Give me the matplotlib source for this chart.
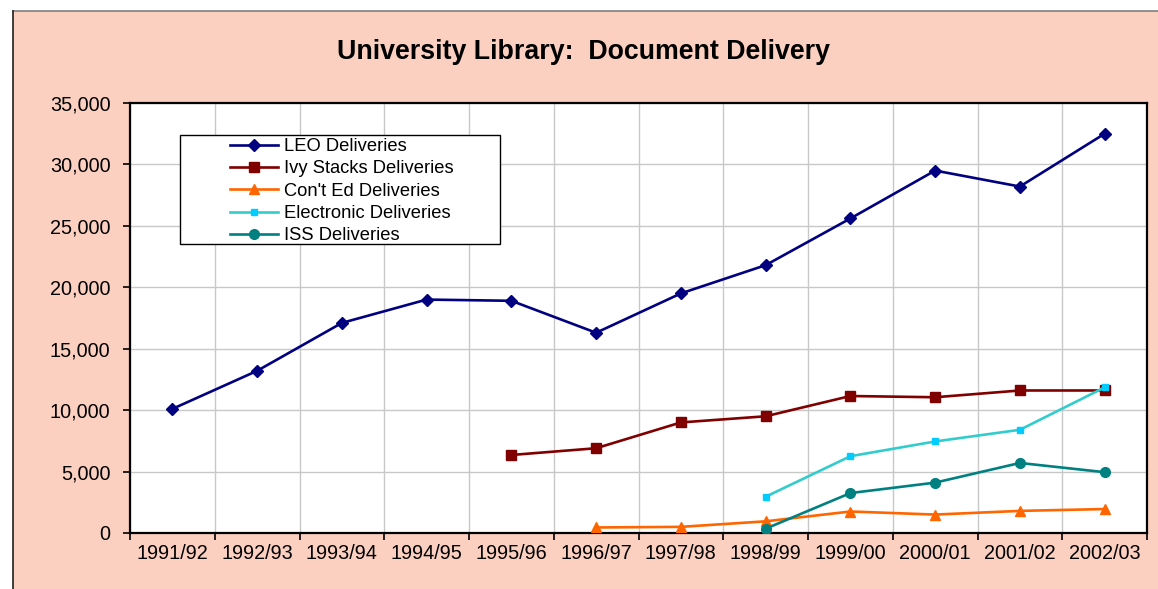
import matplotlib
matplotlib.use('Agg')
import matplotlib.pyplot as plt
import numpy as np
from matplotlib.patches import Rectangle
from matplotlib.lines import Line2D
from matplotlib.ticker import FuncFormatter, FixedLocator

plt.rcParams['font.family'] = ['Liberation Sans', 'DejaVu Sans']

years = ['1991/92', '1992/93', '1993/94', '1994/95', '1995/96', '1996/97',
         '1997/98', '1998/99', '1999/00', '2000/01', '2001/02', '2002/03']
nan = np.nan
leo = [10100, 13200, 17100, 19000, 18900, 16300, 19500, 21800, 25600, 29500, 28200, 32500]
ivy = [nan, nan, nan, nan, 6350, 6900, 9000, 9500, 11150, 11050, 11600, 11600]
conted = [nan, nan, nan, nan, nan, 450, 500, 950, 1750, 1500, 1800, 1950]
electronic = [nan, nan, nan, nan, nan, nan, nan, 2950, 6250, 7450, 8400, 11850]
iss = [nan, nan, nan, nan, nan, nan, nan, 350, 3250, 4100, 5700, 4950]

W, H = 1158, 589
fig = plt.figure(figsize=(W/100, H/100), dpi=100, facecolor='white')

# peach chart area with border on top and left
fig.patches.append(Rectangle((12.5/W, 0), 1, 1 - 11/H, transform=fig.transFigure,
                             facecolor='#FCD0C0', edgecolor='none', zorder=-5))
fig.lines.append(Line2D([12.5/W, 1], [1 - 11/H, 1 - 11/H], transform=fig.transFigure,
                        color='#808080', lw=1.2, zorder=-4))
fig.lines.append(Line2D([12.5/W, 12.5/W], [0, 1 - 11/H], transform=fig.transFigure,
                        color='#202020', lw=1.2, zorder=-4))

ax = fig.add_axes([130/W, 56/H, (1147-130)/W, (533-103)/H])
ax.set_facecolor('white')
x = np.arange(len(years))

ax.plot(x, leo, color='#000080', lw=1.9, marker='D', ms=6, label='LEO Deliveries', zorder=4)
ax.plot(x, ivy, color='#800000', lw=1.9, marker='s', ms=7, label='Ivy Stacks Deliveries', zorder=4)
ax.plot(x, conted, color='#FF6600', lw=1.9, marker='^', ms=7, label="Con't Ed Deliveries", zorder=4)
ax.plot(x, electronic, color='#33CCCC', lw=1.9, marker='s', ms=5, mfc='#00CCFF', mec='#00CCFF',
        label='Electronic Deliveries', zorder=4)
ax.plot(x, iss, color='#008080', lw=1.9, marker='o', ms=7, label='ISS Deliveries', zorder=4)

ax.set_xlim(-0.5, len(years) - 0.5)
ax.set_ylim(0, 35000)
ax.set_yticks(np.arange(0, 35001, 5000))
ax.yaxis.set_major_formatter(FuncFormatter(lambda v, p: f'{int(v):,}'))

ax.xaxis.set_major_locator(FixedLocator(np.arange(-0.5, len(years), 1.0)))
ax.xaxis.set_minor_locator(FixedLocator(x))
ax.set_xticklabels([''] * (len(years) + 1))
ax.set_xticklabels(years, minor=True)
ax.tick_params(axis='x', which='major', direction='out', length=5, width=1.2, color='black')
ax.tick_params(axis='x', which='minor', length=0, pad=8, labelsize=14.3)
ax.tick_params(axis='y', direction='out', length=5, width=1.2, pad=9, labelsize=14.3)

ax.set_axisbelow(True)
ax.grid(True, which='major', color='#C8C8C8', lw=1.0)
for s in ax.spines.values():
    s.set_linewidth(1.6)
    s.set_color('black')

# legend box
ax.add_patch(Rectangle((50/1017, (533-244)/430), 320/1017, 109/430, transform=ax.transAxes,
                       facecolor='white', edgecolor='black', lw=1.0, zorder=3))
leg = ax.legend(loc='upper left', bbox_to_anchor=(100/1017, (533-138)/430), frameon=False,
                fontsize=13.2, borderpad=0, borderaxespad=0, handlelength=2.62,
                handletextpad=0.33, labelspacing=0.29)
leg.set_zorder(5)

fig.text(583/W, 1 - 52/H, 'University Library:  Document Delivery', ha='center', va='center',
         fontsize=19.3, fontweight='bold')

fig.savefig('out.png', dpi=100, facecolor=fig.get_facecolor())
